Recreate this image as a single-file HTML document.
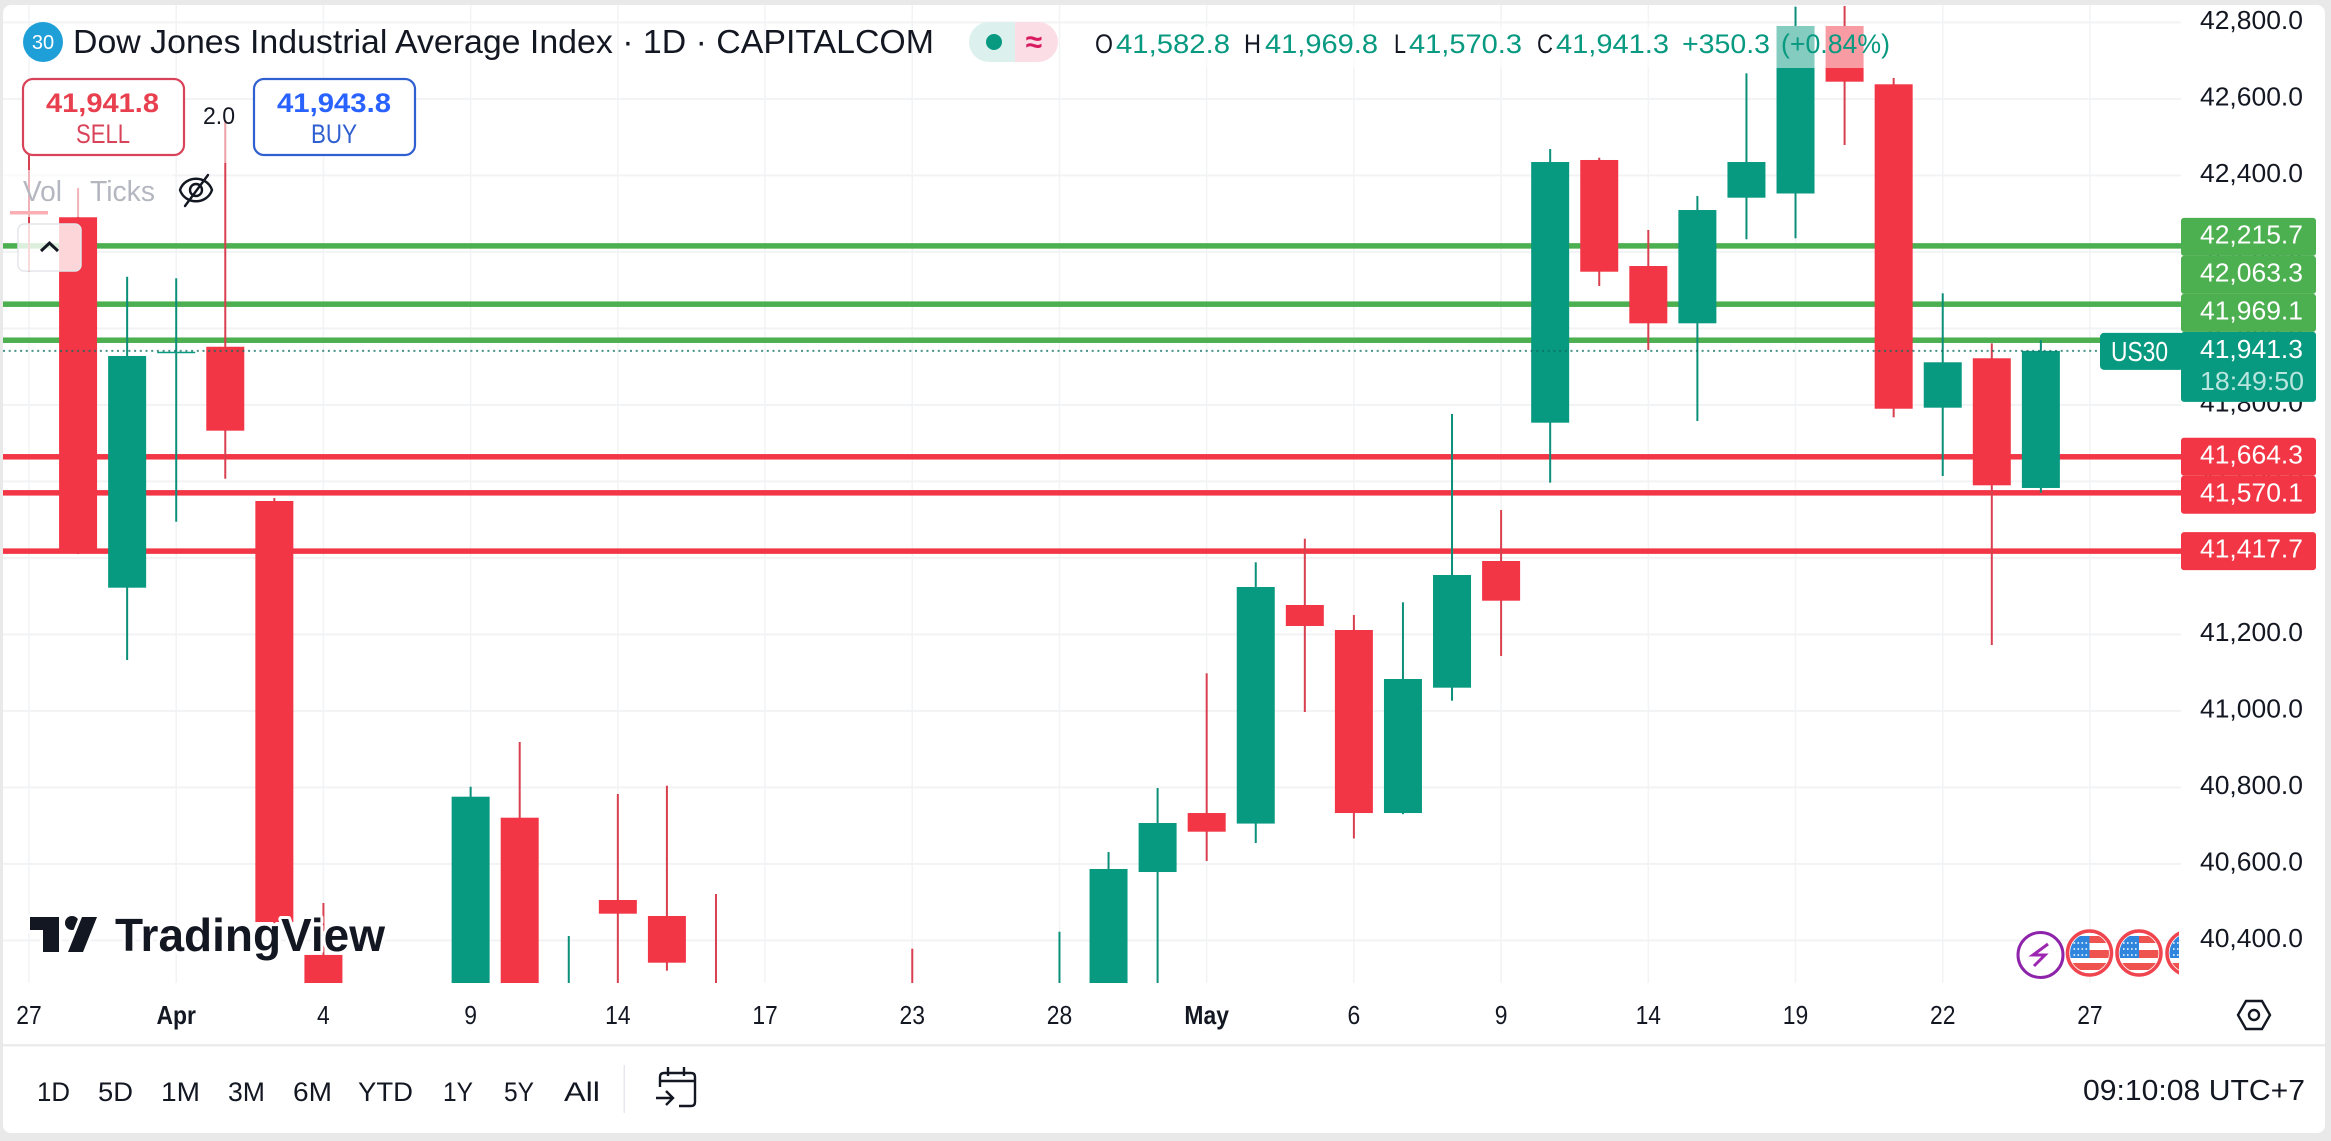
<!DOCTYPE html>
<html lang="en">
<head>
<meta charset="utf-8">
<title>Dow Jones Industrial Average Index chart</title>
<style>
html,body{margin:0;padding:0;width:2331px;height:1141px;overflow:hidden;background:#e9e9e9}
svg{display:block}
text{font-family:"Liberation Sans",sans-serif;fill:#131722}
</style>
</head>
<body>
<svg id="chart" xmlns="http://www.w3.org/2000/svg" width="2331" height="1141" viewBox="0 0 2331 1141">
  <defs>
    <clipPath id="pane-clip"><rect x="3" y="5" width="2178" height="978"/></clipPath>
    <clipPath id="events-clip"><rect x="2000" y="920" width="179" height="70"/></clipPath>
    <clipPath id="flag-clip"><circle cx="0" cy="0" r="19.5"/></clipPath>
    <g id="us-flag">
      <circle cx="0" cy="0" r="22" fill="#fff" stroke="#f0444f" stroke-width="3.5"/>
      <g clip-path="url(#flag-clip)">
        <rect x="-22" y="-17" width="22" height="22" fill="#2f86dc"/>
        <rect x="0" y="-17" width="22" height="7" fill="#ef5350"/>
        <rect x="0" y="-3" width="22" height="8" fill="#ef5350"/>
        <rect x="-22" y="10" width="44" height="7" fill="#ef5350"/>
        <path d="M-16 -10H-2M-16 -4H-2M-16 2H-2" stroke="#fff" stroke-width="1.6" stroke-dasharray="1.6 2.4"/>
      </g>
    </g>
  </defs>

  <rect x="3" y="5" width="2322" height="1128" rx="8" fill="#fff"/>

  <g id="grid-layer"></g>
  <g id="level-layer" clip-path="url(#pane-clip)"></g>
  <g id="candle-layer" clip-path="url(#pane-clip)"></g>
  <g id="last-layer"></g>

  <!-- overlays that fade the chart behind the legend rows -->
  <rect x="1090" y="26" width="780" height="42" fill="#fff" fill-opacity="0.5"/>
  <rect x="186" y="118" width="66" height="45" fill="#fff" fill-opacity="0.5"/>
  <rect x="3" y="170" width="170" height="47" fill="#fff" fill-opacity="0.6"/>

  <!-- title -->
  <circle cx="43" cy="42" r="20" fill="#1f9fd8"/>
  <text x="43" y="49" font-size="20" text-anchor="middle" style="fill:#fff">30</text>
  <text x="73" y="53" font-size="33" textLength="861" lengthAdjust="spacingAndGlyphs">Dow Jones Industrial Average Index · 1D · CAPITALCOM</text>

  <g>
    <path d="M1015 22H989a20 20 0 0 0 0 40H1015Z" fill="#dcf1ee"/>
    <path d="M1015 22H1038a20 20 0 0 1 0 40H1015Z" fill="#fbdde5"/>
    <circle cx="994" cy="42" r="8" fill="#089981"/>
    <text x="1034" y="52" font-size="30" text-anchor="middle" style="fill:#d81b60;font-weight:bold">≈</text>
  </g>

  <!-- OHLC legend -->
  <g font-size="27">
    <text x="1095" y="53" textLength="18" lengthAdjust="spacingAndGlyphs">O</text>
    <text x="1116" y="53" textLength="114" lengthAdjust="spacingAndGlyphs" style="fill:#089981">41,582.8</text>
    <text x="1244" y="53" textLength="17" lengthAdjust="spacingAndGlyphs">H</text>
    <text x="1265" y="53" textLength="113" lengthAdjust="spacingAndGlyphs" style="fill:#089981">41,969.8</text>
    <text x="1394" y="53" textLength="12" lengthAdjust="spacingAndGlyphs">L</text>
    <text x="1409" y="53" textLength="113" lengthAdjust="spacingAndGlyphs" style="fill:#089981">41,570.3</text>
    <text x="1537" y="53" textLength="16" lengthAdjust="spacingAndGlyphs">C</text>
    <text x="1556" y="53" textLength="113" lengthAdjust="spacingAndGlyphs" style="fill:#089981">41,941.3</text>
    <text x="1682" y="53" textLength="88" lengthAdjust="spacingAndGlyphs" style="fill:#089981">+350.3</text>
    <text x="1781" y="53" textLength="109" lengthAdjust="spacingAndGlyphs" style="fill:#089981">(+0.84%)</text>
  </g>

  <!-- sell / buy -->
  <g>
    <rect x="23" y="79" width="161" height="76" rx="10" fill="#fff" stroke="#d9435a" stroke-width="2.2"/>
    <text x="46" y="112" font-size="27" font-weight="bold" textLength="113" lengthAdjust="spacingAndGlyphs" style="fill:#e8404f">41,941.8</text>
    <text x="76" y="143" font-size="27" textLength="54" lengthAdjust="spacingAndGlyphs" style="fill:#d9435a">SELL</text>
  </g>
  <text x="203" y="124" font-size="24" textLength="32" lengthAdjust="spacingAndGlyphs">2.0</text>
  <g>
    <rect x="254" y="79" width="161" height="76" rx="10" fill="#fff" stroke="#2f5fd0" stroke-width="2.2"/>
    <text x="277" y="112" font-size="27" font-weight="bold" textLength="114" lengthAdjust="spacingAndGlyphs" style="fill:#2962ff">41,943.8</text>
    <text x="311" y="143" font-size="27" textLength="46" lengthAdjust="spacingAndGlyphs" style="fill:#2f5fd0">BUY</text>
  </g>

  <!-- indicator row -->
  <text x="23" y="201" font-size="29" textLength="39" lengthAdjust="spacingAndGlyphs" style="fill:#b4b7c0">Vol</text>
  <text x="90" y="201" font-size="29" textLength="65" lengthAdjust="spacingAndGlyphs" style="fill:#b4b7c0">Ticks</text>
  <g fill="none" stroke="#131722" stroke-width="2.4" stroke-linecap="round">
    <path d="M180 190C185 175 207 175 212 190C207 205 185 205 180 190Z"/>
    <circle cx="196" cy="190" r="6"/>
    <path d="M185 206L208 175"/>
  </g>
  <g>
    <rect x="18" y="224" width="63" height="47" rx="6" fill="#fff" fill-opacity="0.8" stroke="#e3e5ea" stroke-width="1.5"/>
    <path d="M41 251L49.500 243L58 251" fill="none" stroke="#131722" stroke-width="3"/>
  </g>

  <!-- watermark -->
  <g>
    <g stroke="#fff" stroke-width="6" paint-order="stroke" stroke-linejoin="round" fill="#131722">
      <path d="M30 917H59V952H43V930H30Z"/>
      <circle cx="72" cy="923" r="7"/>
      <path d="M82 917H97L83 952H68Z"/>
    </g>
    <text x="115" y="951" font-size="46" font-weight="bold" textLength="270" lengthAdjust="spacingAndGlyphs" stroke="#fff" stroke-width="6" paint-order="stroke" stroke-linejoin="round">TradingView</text>
  </g>

  <!-- event icons -->
  <g clip-path="url(#events-clip)">
    <g>
      <circle cx="2040.500" cy="955" r="22.500" fill="#fff" stroke="#8e24aa" stroke-width="3"/>
      <path d="M2048 944L2033 955H2045L2034 966" fill="none" stroke="#9c27b0" stroke-width="3"/>
    </g>
    <use href="#us-flag" x="2089.500" y="953"/>
    <use href="#us-flag" x="2139" y="953"/>
    <use href="#us-flag" x="2189" y="953"/>
  </g>

  <g id="price-axis"></g>
  <g id="time-axis"></g>

  <g fill="none" stroke="#131722" stroke-width="2.4">
    <path d="M2238 1015L2246 1001H2262L2270 1015L2262 1029H2246Z"/>
    <circle cx="2254" cy="1015" r="5"/>
  </g>

  <!-- toolbar -->
  <rect x="3" y="1044" width="2322" height="2.500" fill="#ececec"/>
  <g font-size="27">
    <text x="37" y="1101" textLength="33" lengthAdjust="spacingAndGlyphs">1D</text>
    <text x="98" y="1101" textLength="35" lengthAdjust="spacingAndGlyphs">5D</text>
    <text x="161" y="1101" textLength="39" lengthAdjust="spacingAndGlyphs">1M</text>
    <text x="228" y="1101" textLength="37" lengthAdjust="spacingAndGlyphs">3M</text>
    <text x="293" y="1101" textLength="39" lengthAdjust="spacingAndGlyphs">6M</text>
    <text x="358" y="1101" textLength="55" lengthAdjust="spacingAndGlyphs">YTD</text>
    <text x="443" y="1101" textLength="30" lengthAdjust="spacingAndGlyphs">1Y</text>
    <text x="504" y="1101" textLength="30" lengthAdjust="spacingAndGlyphs">5Y</text>
    <text x="564" y="1101" textLength="36" lengthAdjust="spacingAndGlyphs">All</text>
  </g>
  <rect x="623.500" y="1065" width="1.500" height="48" fill="#e6e8ee"/>
  <g fill="none" stroke="#131722" stroke-width="2.4">
    <path d="M660 1087V1077Q660 1073 664 1073H691Q695 1073 695 1077V1102Q695 1106 691 1106H679"/>
    <path d="M660 1081H695M668 1067V1076M684 1067V1076"/>
    <path d="M656 1098H673M666 1091L673 1098L666 1105"/>
  </g>
  <text x="2083" y="1100" font-size="29" textLength="222" lengthAdjust="spacingAndGlyphs">09:10:08 UTC+7</text>
</svg>

<script>
const categories = ['Mar 27','Mar 28','Mar 31','Apr 1','Apr 2','Apr 3','Apr 4','Apr 7','Apr 8','Apr 9','Apr 10','Apr 11','Apr 14','Apr 15','Apr 16','Apr 17','Apr 21','Apr 22','Apr 23','Apr 24','Apr 25','Apr 28','Apr 29','Apr 30','May 1','May 2','May 5','May 6','May 7','May 8','May 9','May 12','May 13','May 14','May 15','May 16','May 19','May 20','May 21','May 22','May 23','May 26'];
const opens = [42306.9,42290.5,41322.1,41937,41952,41548.8,40362,38100,38500,37700,40720.8,39600,40505.6,40463.8,39900,39650,39100,38300,39900,39600,40100,40100,40200,40578.8,40733,40705.4,41276.9,41211.5,40733,41060.7,41391.9,41753.5,42440.3,42163.1,42013.3,42341.7,42352.7,42790.6,42638.2,41792.7,41921.9,41582.8];
const highs = [42466,42367,42135,42131,42544.9,41556.6,40497.8,39000,39300,40801.8,40918.7,40411.5,40782.7,40804.4,40521.3,39900,39200,39300,40378.3,40150,40200,40422.7,40631,40798.4,41098.3,41388.5,41450.2,41250.7,41283.9,41776.2,41525.2,42469,42446.3,42257.3,42346.1,42666.9,42841,42842.9,42654.7,42091.8,41961,41969.8];
const lows = [42147.5,41410,41133,41494.6,41607,40440,38200,36600,37500,37600,39300,39200,40100,40320.8,39400,39100,38100,38300,39500,39500,39700,39900,40050,40150,40607.6,40654.6,40997.1,40666.4,40730,41026.7,41143.5,41596.6,42110.9,41943.5,41757.9,42233,42235.6,42479.5,41767.6,41614.1,41172.3,41570.3];
const closes = [42297.8,41412,41927.9,41939,41732.6,40448,38300,37900,37700,40775.7,39700,40200,40469.8,40341.7,39650,39140,38170,39190,39600,40090,40110,40230,40586.7,40706.9,40684.2,41323.9,41222,40733,41083.4,41355.3,41288.1,42435,42148.2,42013.3,42309.5,42435,42790.6,42645,41790,41911.4,41589.8,41941.3];
const priceTicks = [42800,42600,42400,42200,42000,41800,41600,41400,41200,41000,40800,40600,40400];
const timeTickLabels = ['27','Apr','4','9','14','17','23','28','May','6','9','14','19','22','27'];
const supportLevels = [41664.3,41570.1,41417.7];
const resistanceLevels = [41969.1,42063.3,42215.7];
const lastPrice = 41941.3;
const countdown = '18:49:50';
const symbolTag = 'US30';

const SVG_NS = 'http://www.w3.org/2000/svg';
const PANE_TOP = 5;
const PANE_BOTTOM = 983;
const yOf = function (p) { return 940.4 - (p - 40400) * 0.3825; };
const xOf = function (i) { return 29 + 49.07 * i; };
const clampY = function (y) { return Math.min(PANE_BOTTOM, Math.max(PANE_TOP, y)); };
const fmt = function (p) {
  return p.toLocaleString('en-US', { minimumFractionDigits: 1, maximumFractionDigits: 1 });
};
function make(tag, attrs, parent) {
  const el = document.createElementNS(SVG_NS, tag);
  for (const k in attrs) el.setAttribute(k, attrs[k]);
  parent.appendChild(el);
  return el;
}

const gridLayer = document.getElementById('grid-layer');
const levelLayer = document.getElementById('level-layer');
const candleLayer = document.getElementById('candle-layer');
const lastLayer = document.getElementById('last-layer');
const priceAxis = document.getElementById('price-axis');
const timeAxis = document.getElementById('time-axis');

/* grid + price tick labels */
priceTicks.forEach(function (p) {
  const line = make('rect', { x: 3, y: yOf(p) - 1, width: 2178, height: 2, fill: '#f2f3f5' }, gridLayer);
  
  
  const label = make('text', { x: 2200, y: yOf(p) + 6.5, 'font-size': 26, textLength: 103, lengthAdjust: 'spacingAndGlyphs' }, priceAxis);
  
  
  label.textContent = fmt(p);
});

/* time ticks: one label every third bar */
timeTickLabels.forEach(function (t, n) {
  const i = n * 3;
  const x = xOf(i);
  const line = make('rect', { x: x - 0.75, y: PANE_TOP, width: 1.5, height: PANE_BOTTOM - PANE_TOP, fill: '#f2f3f5' }, gridLayer);
  
  
  const month = t === 'Apr' || t === 'May';
  const label = make('text', { x: x, y: 1024, 'font-size': 26, 'text-anchor': 'middle', 'font-weight': month ? 'bold' : 'normal' }, timeAxis);
  
  
  label.textContent = t;
  label.setAttribute('lengthAdjust', 'spacingAndGlyphs');
  label.setAttribute('textLength', label.getComputedTextLength() * 0.88);
});

/* horizontal price levels */
resistanceLevels.concat(supportLevels).forEach(function (p) {
  const color = p > lastPrice ? '#4caf50' : '#f23645';
  const band = make('rect', { x: 3, y: yOf(p) - 2.75, width: 2178, height: 5.5, fill: color }, levelLayer);
  
  
});

/* candles: geometry is clamped to the pane so bars off-scale do not extend the page */
categories.forEach(function (cat, i) {
  const up = closes[i] >= opens[i];
  const color = up ? '#089981' : '#f23645';
  const x = xOf(i);
  const g = make('g', {}, candleLayer);
  
  
  g.setAttribute('data-category', cat);
  const wickTop = clampY(yOf(highs[i]));
  const wickBot = clampY(yOf(lows[i]));
  make('rect', { x: x - 1, y: wickTop, width: 2, height: Math.max(0, wickBot - wickTop), fill: up ? '#0b8f79' : '#d9404f' }, g);
  const rawTop = yOf(Math.max(opens[i], closes[i]));
  const rawBot = yOf(Math.min(opens[i], closes[i]));
  const top = clampY(rawTop);
  const bot = clampY(rawBot);
  if (rawTop < PANE_BOTTOM) {
    make('rect', { x: x - 19, y: top, width: 38, height: Math.max(1.5, bot - top), fill: color }, g);
  }
});

/* last price dotted line */
const lastLine = make('line', { x1: 3, x2: 2100, y1: yOf(lastPrice), y2: yOf(lastPrice), stroke: '#0a6f60', 'stroke-width': 2, 'stroke-dasharray': '2 3.700', 'stroke-opacity': 0.75 }, lastLayer);



/* price tags, stacked away from the last-price tag */
const TAG_H = 38;
function drawTag(center, text, color) {
  const g = make('g', {}, priceAxis);
  
  
  make('rect', { x: 2181, y: center - TAG_H / 2, width: 135, height: TAG_H, rx: 3, fill: color }, g);
  const t = make('text', { x: 2200, y: center + 6.5, 'font-size': 26, textLength: 103, lengthAdjust: 'spacingAndGlyphs' }, g);
  t.style.fill = '#fff';
  t.textContent = text;
}
const lastY = yOf(lastPrice);
const lastTop = lastY - 19;
const lastBottom = lastTop + 70;
let upper = lastTop + TAG_H / 2;
resistanceLevels.slice().sort(function (a, b) { return a - b; }).forEach(function (p) {
  upper = Math.min(yOf(p), upper - TAG_H);
  drawTag(upper, fmt(p), '#4caf50');
});
let lower = lastBottom - TAG_H / 2;
supportLevels.slice().sort(function (a, b) { return b - a; }).forEach(function (p) {
  lower = Math.max(yOf(p), lower + TAG_H);
  drawTag(lower, fmt(p), '#f23645');
});

/* last price tag with countdown and symbol tag */
const lastTag = make('g', {}, priceAxis);


make('rect', { x: 2181, y: lastTop, width: 135, height: 70, rx: 3, fill: '#089981' }, lastTag);
const lastText = make('text', { x: 2200, y: lastY + 7, 'font-size': 26, textLength: 103, lengthAdjust: 'spacingAndGlyphs' }, lastTag);
lastText.style.fill = '#fff';
lastText.textContent = fmt(lastPrice);
const cdText = make('text', { x: 2200, y: lastY + 39, 'font-size': 26, textLength: 104, lengthAdjust: 'spacingAndGlyphs' }, lastTag);
cdText.style.fill = '#b8e6de';
cdText.textContent = countdown;

const symTag = make('g', {}, priceAxis);


make('rect', { x: 2100, y: lastY - 18, width: 84, height: 37, rx: 4, fill: '#089981' }, symTag);
const symText = make('text', { x: 2111, y: lastY + 10, 'font-size': 28, textLength: 57, lengthAdjust: 'spacingAndGlyphs' }, symTag);
symText.style.fill = '#fff';
symText.textContent = symbolTag;
</script>
</body>
</html>
